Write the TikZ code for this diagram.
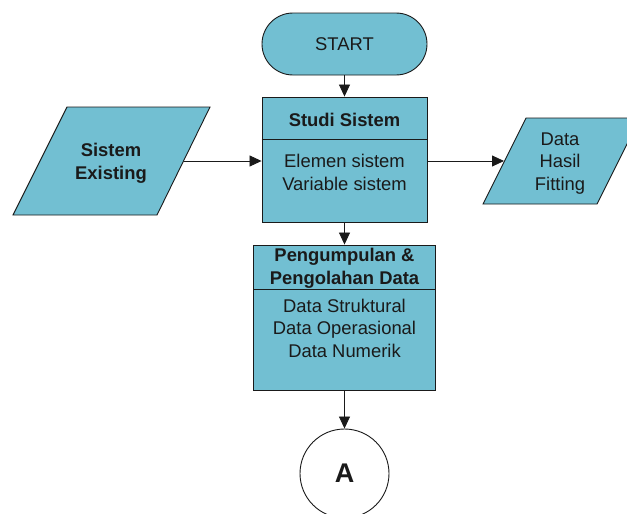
\documentclass[tikz,border=0pt]{standalone}
\usepackage{fontspec}
\setmainfont{Liberation Sans}
\usetikzlibrary{arrows.meta,calc}
\definecolor{boxfill}{RGB}{114,191,210}
\definecolor{ink}{RGB}{26,26,26}
\begin{document}
\begin{tikzpicture}[x=1pt,y=-1pt,
  every node/.style={text=ink},
  shapebox/.style={draw=ink,fill=boxfill,line width=0.9pt},
  txt/.style={inner sep=0pt,align=center,font=\fontsize{18.4}{22.5}\selectfont},
  btxt/.style={inner sep=0pt,align=center,font=\fontsize{18.4}{22.5}\selectfont\bfseries},
  rule/.style={draw=ink,line width=0.9pt},
  flow/.style={draw=ink,line width=0.8pt,-{Triangle[length=12pt,width=11pt]}}]
\useasboundingbox (0,0) rectangle (627,514);

% terminal
\node[shapebox,rounded corners=31pt,minimum width=165pt,minimum height=62pt,inner sep=0pt,txt] (start) at (344.5,44) {START};

% Studi Sistem block
\node[shapebox,minimum width=165pt,minimum height=125pt,inner sep=0pt] (studi) at (344.5,159.5) {};
\draw[rule] ($(studi.north west)+(0,43)$) -- ($(studi.north east)+(0,43)$);
\node[btxt] (studiT) at (344.5,119.5) {Studi Sistem};
\node[txt] (studiB) at (344.5,172.5) {Elemen sistem\\Variable sistem};

% Pengumpulan & Pengolahan Data block
\node[shapebox,minimum width=182pt,minimum height=145pt,inner sep=0pt] (peng) at (344.5,317.5) {};
\draw[rule] ($(peng.north west)+(0,45)$) -- ($(peng.north east)+(0,45)$);
\node[btxt] (pengT) at (344.5,268.5) {Pengumpulan \&\\Pengolahan Data};
\node[txt] (pengB) at (344.5,328) {Data Struktural\\Data Operasional\\Data Numerik};

% off-page connector
\node[draw=ink,fill=white,circle,minimum size=89pt,line width=0.9pt,inner sep=0pt,
      font=\fontsize{27}{30}\selectfont\bfseries] (conA) at (344.5,473.5) {A};

% input: Sistem Existing
\draw[shapebox] (67,107) -- (210,107) -- (157,215) -- (13,215) -- cycle;
\node[btxt] (sysex) at (111,163.5) {Sistem\\Existing};
\coordinate (sysR) at (183.5,161);

% output: Data Hasil Fitting
\draw[shapebox] (526,118) -- (640,118) -- (597,204) -- (483,204) -- cycle;
\node[txt] (dataT) at (560,163.5) {Data\\Hasil\\Fitting};
\coordinate (dataL) at (504,161);

% connectors
\draw[flow] (start.south) -- (studi.north);
\draw[flow] (studi.south) -- (peng.north);
\draw[flow] (peng.south) -- (conA.north);
\draw[flow] (sysR) -- (sysR -| studi.west);
\draw[flow] (studi.east |- dataL) -- (dataL);
\end{tikzpicture}
\end{document}
